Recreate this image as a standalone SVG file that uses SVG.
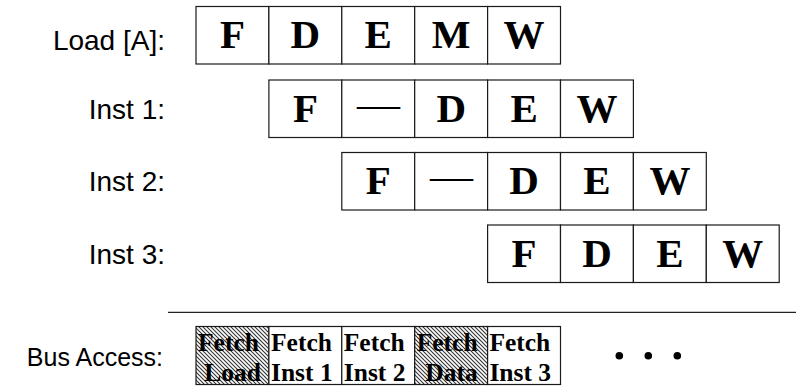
<svg xmlns="http://www.w3.org/2000/svg" width="796" height="386" viewBox="0 0 796 386">
<style>
.cell{fill:#fff;stroke:#1a1a1a;stroke-width:1.2}
.hcell{fill:url(#hatch);stroke:#1a1a1a;stroke-width:1.2}
.lbl{font-family:"Liberation Sans",Arial,sans-serif;font-size:28px;fill:#000;text-anchor:end}
.lbl2{font-size:25px}
.big{font-family:"Liberation Serif","Times New Roman",serif;font-size:41px;font-weight:bold;fill:#000;text-anchor:middle}
.dash{font-family:"Liberation Serif","Times New Roman",serif;font-size:43px;fill:#000;text-anchor:middle}
.bus{font-family:"Liberation Serif","Times New Roman",serif;font-size:25.5px;font-weight:bold;fill:#000}
.mid{text-anchor:middle}
.sep{stroke:#222;stroke-width:1.2}
</style>
<defs>
<pattern id="hatch" patternUnits="userSpaceOnUse" width="4" height="4">
<rect width="4" height="4" fill="#fff"/>
<path d="M-1,-1 L5,5 M-1,3 L1,5 M3,-1 L5,1" stroke="#333" stroke-width="1.1"/>
</pattern>
</defs>

<!-- Row labels -->
<g id="labels">
<text class="lbl" x="165" y="49.5">Load [A]:</text>
<text class="lbl" x="165" y="118.5">Inst 1:</text>
<text class="lbl" x="165" y="191">Inst 2:</text>
<text class="lbl" x="165" y="263.5">Inst 3:</text>
<text class="lbl lbl2" x="163" y="365.5">Bus Access:</text>
</g>

<!-- Load [A] row -->
<g id="load">
<g id="load-F"><rect class="cell" x="196" y="6.5" width="72.9" height="57.5"/><text class="big" x="232.5" y="48">F</text></g>
<g id="load-D"><rect class="cell" x="268.9" y="6.5" width="72.9" height="57.5"/><text class="big" x="305.4" y="48">D</text></g>
<g id="load-E"><rect class="cell" x="341.8" y="6.5" width="72.9" height="57.5"/><text class="big" x="378.3" y="48">E</text></g>
<g id="load-M"><rect class="cell" x="414.7" y="6.5" width="72.9" height="57.5"/><text class="big" x="451.2" y="48">M</text></g>
<g id="load-W"><rect class="cell" x="487.6" y="6.5" width="72.9" height="57.5"/><text class="big" x="524.1" y="48">W</text></g>
</g>

<!-- Inst 1 row -->
<g id="inst1">
<g id="inst1-F"><rect class="cell" x="268.9" y="80" width="72.9" height="57.5"/><text class="big" x="305.4" y="121.5">F</text></g>
<g id="inst1-stall"><rect class="cell" x="341.8" y="80" width="72.9" height="57.5"/><text class="dash" x="378.6" y="117.8">—</text></g>
<g id="inst1-D"><rect class="cell" x="414.7" y="80" width="72.9" height="57.5"/><text class="big" x="451.2" y="121.5">D</text></g>
<g id="inst1-E"><rect class="cell" x="487.6" y="80" width="72.9" height="57.5"/><text class="big" x="524.1" y="121.5">E</text></g>
<g id="inst1-W"><rect class="cell" x="560.5" y="80" width="72.9" height="57.5"/><text class="big" x="597" y="121.5">W</text></g>
</g>

<!-- Inst 2 row -->
<g id="inst2">
<g id="inst2-F"><rect class="cell" x="341.8" y="152.5" width="72.9" height="57.5"/><text class="big" x="378.3" y="194">F</text></g>
<g id="inst2-stall"><rect class="cell" x="414.7" y="152.5" width="72.9" height="57.5"/><text class="dash" x="451.5" y="190.2">—</text></g>
<g id="inst2-D"><rect class="cell" x="487.6" y="152.5" width="72.9" height="57.5"/><text class="big" x="524.1" y="194">D</text></g>
<g id="inst2-E"><rect class="cell" x="560.5" y="152.5" width="72.9" height="57.5"/><text class="big" x="597" y="194">E</text></g>
<g id="inst2-W"><rect class="cell" x="633.4" y="152.5" width="72.9" height="57.5"/><text class="big" x="669.9" y="194">W</text></g>
</g>

<!-- Inst 3 row -->
<g id="inst3">
<g id="inst3-F"><rect class="cell" x="487.6" y="225" width="72.9" height="57.5"/><text class="big" x="524.1" y="266.5">F</text></g>
<g id="inst3-D"><rect class="cell" x="560.5" y="225" width="72.9" height="57.5"/><text class="big" x="597" y="266.5">D</text></g>
<g id="inst3-E"><rect class="cell" x="633.4" y="225" width="72.9" height="57.5"/><text class="big" x="669.9" y="266.5">E</text></g>
<g id="inst3-W"><rect class="cell" x="706.3" y="225" width="72.9" height="57.5"/><text class="big" x="742.8" y="266.5">W</text></g>
</g>

<!-- Separator -->
<line class="sep" x1="168" y1="312.3" x2="796" y2="312.3"/>

<!-- Bus access row -->
<g id="bus">
<g id="bus-fetch-load"><rect class="hcell" x="196" y="326.5" width="72.9" height="58"/><text class="bus" x="198" y="350.5">Fetch</text><text class="bus mid" x="232.5" y="381">Load</text></g>
<g id="bus-fetch-inst1"><rect class="cell" x="268.9" y="326.5" width="72.9" height="58"/><text class="bus" x="271" y="350.5">Fetch</text><text class="bus" x="271" y="381">Inst 1</text></g>
<g id="bus-fetch-inst2"><rect class="cell" x="341.8" y="326.5" width="72.9" height="58"/><text class="bus" x="343.8" y="350.5">Fetch</text><text class="bus" x="343.8" y="381">Inst 2</text></g>
<g id="bus-fetch-data"><rect class="hcell" x="414.7" y="326.5" width="72.9" height="58"/><text class="bus" x="416.7" y="350.5">Fetch</text><text class="bus mid" x="451.5" y="381">Data</text></g>
<g id="bus-fetch-inst3"><rect class="cell" x="487.6" y="326.5" width="72.9" height="58"/><text class="bus" x="489.4" y="350.5">Fetch</text><text class="bus" x="489.4" y="381">Inst 3</text></g>
<g id="ellipsis"><circle cx="619.3" cy="355.7" r="3.8"/><circle cx="648.3" cy="355.7" r="3.8"/><circle cx="677.3" cy="355.7" r="3.8"/></g>
</g>
</svg>
